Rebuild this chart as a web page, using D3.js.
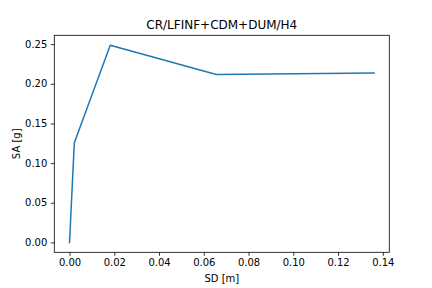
<!DOCTYPE html>
<html>
<head>
<meta charset="utf-8">
<script src="https://cdn.jsdelivr.net/npm/d3@7"></script>
<style>
  body { margin: 0; background: #fff; }
  text { font-family: "DejaVu Sans", sans-serif; fill: #000; }
</style>
</head>
<body>
<script>
// capacity curve points
var sd = [0.0, 0.00214, 0.0182, 0.0656, 0.1361];
var sa = [0.0, 0.1256, 0.2487, 0.2118, 0.2136];
var xTicks = [0.00, 0.02, 0.04, 0.06, 0.08, 0.10, 0.12, 0.14];
var yTicks = [0.00, 0.05, 0.10, 0.15, 0.20, 0.25];
var title = "CR/LFINF+CDM+DUM/H4";

var width = 432, height = 288;
// note: "top" clashes with window.top, so use plot* names
var plotLeft = 54.3, plotRight = 389.3, plotTop = 35.3, plotBottom = 252.3;

var svg = d3.select("body").append("svg")
  .attr("width", width)
  .attr("height", height);

svg.append("rect")
  .attr("width", width)
  .attr("height", height)
  .attr("fill", "#fff");

var xPad = (d3.max(sd) - d3.min(sd)) * 0.05;
var yPad = (d3.max(sa) - d3.min(sa)) * 0.05;

var x = d3.scaleLinear()
  .domain([d3.min(sd) - xPad, d3.max(sd) + xPad])
  .range([plotLeft, plotRight]);
var y = d3.scaleLinear()
  .domain([d3.min(sa) - yPad, d3.max(sa) + yPad])
  .range([plotBottom, plotTop]);

var pts = sd.map(function (d, i) { return [d, sa[i]]; });

svg.append("path")
  .datum(pts)
  .attr("fill", "none")
  .attr("stroke", "#1f77b4")
  .attr("stroke-width", 1.5)
  .attr("stroke-linejoin", "round")
  .attr("stroke-linecap", "square")
  .attr("d", d3.line()
    .x(function (d) { return x(d[0]); })
    .y(function (d) { return y(d[1]); }));

var xAxis = svg.append("g")
  .attr("transform", "translate(0," + plotBottom + ")")
  .call(d3.axisBottom(x).tickValues(xTicks).tickSize(3.5).tickPadding(3.5)
    .tickFormat(d3.format(".2f")));
var yAxis = svg.append("g")
  .attr("transform", "translate(" + plotLeft + ",0)")
  .call(d3.axisLeft(y).tickValues(yTicks).tickSize(3.5).tickPadding(3.5)
    .tickFormat(d3.format(".2f")));

[xAxis, yAxis].forEach(function (g) {
  g.select(".domain").remove();
  g.selectAll(".tick line").attr("stroke", "#000").attr("stroke-width", 0.8);
  g.selectAll(".tick text")
    .attr("font-size", 10)
    .attr("font-family", "DejaVu Sans, sans-serif")
    .attr("fill", "#000");
});

// frame
svg.append("rect")
  .attr("x", plotLeft)
  .attr("y", plotTop)
  .attr("width", plotRight - plotLeft)
  .attr("height", plotBottom - plotTop)
  .attr("fill", "none")
  .attr("stroke", "#000")
  .attr("stroke-width", 0.8);

svg.append("text")
  .attr("x", (plotLeft + plotRight) / 2)
  .attr("y", 28.5)
  .attr("text-anchor", "middle")
  .attr("font-size", 12)
  .text(title);

svg.append("text")
  .attr("x", (plotLeft + plotRight) / 2)
  .attr("y", 281.5)
  .attr("text-anchor", "middle")
  .attr("font-size", 10)
  .text("SD [m]");

svg.append("text")
  .attr("transform", "translate(20," + ((plotTop + plotBottom) / 2) + ") rotate(-90)")
  .attr("text-anchor", "middle")
  .attr("font-size", 10)
  .text("SA [g]");
</script>
</body>
</html>
